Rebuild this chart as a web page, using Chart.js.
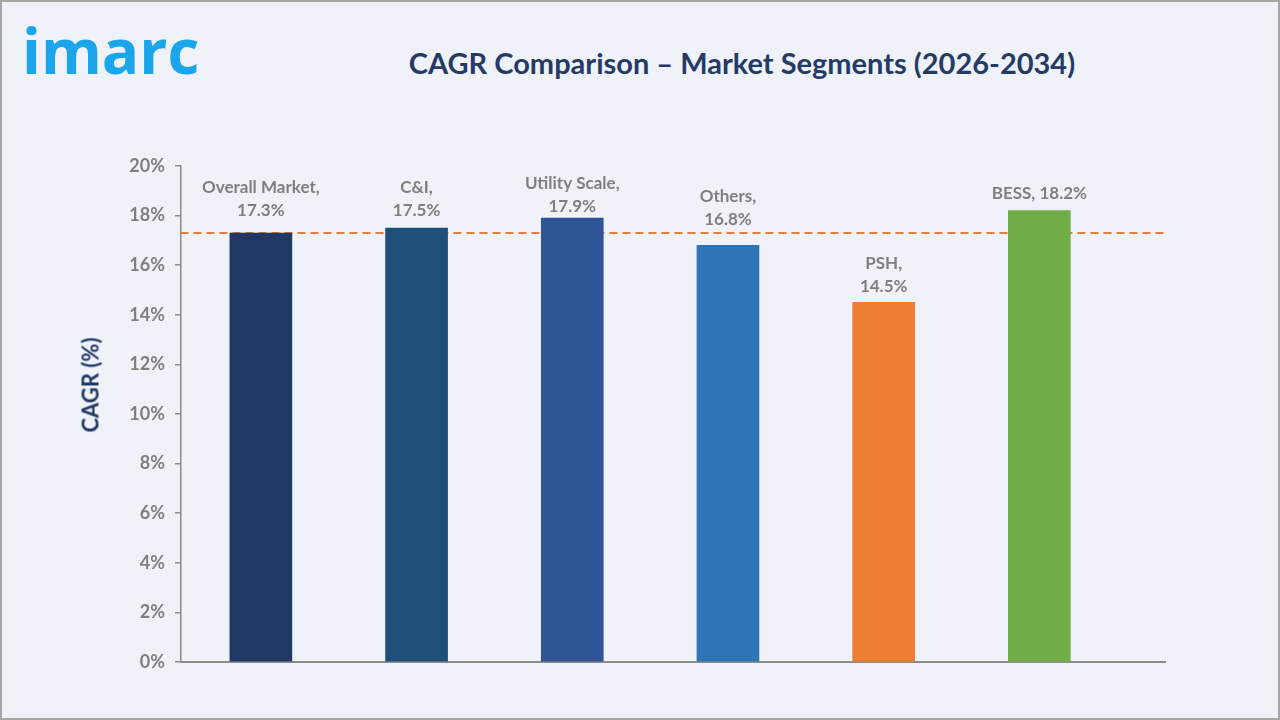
<!DOCTYPE html>
<html>
<head>
<meta charset="utf-8">
<script src="https://cdn.jsdelivr.net/npm/chart.js@4.4.1/dist/chart.umd.min.js"></script>
<style>
  html, body { margin: 0; padding: 0; }
  body { width: 1280px; height: 720px; overflow: hidden; font-family: Lato, "Open Sans", sans-serif; }
  #frame {
    position: relative; width: 1280px; height: 720px; box-sizing: border-box;
    border: 2px solid #a6a6a6; background: #eff2f8;
  }
  #logo {
    position: absolute; left: 20px; top: 17px; font-family: "Open Sans", sans-serif;
    font-weight: 700; font-size: 62px; line-height: 1; color: #1ba6ec;
  }
  #title {
    position: absolute; left: 240px; width: 1000px; top: 43px; text-align: center;
    font-weight: 700; font-size: 29px; color: #263a66;
  }
  #ytitle {
    position: absolute; left: 88px; top: 383px; transform: translate(-50%, -50%) rotate(-90deg);
    white-space: nowrap; font-weight: 700; font-size: 22px; color: #1f3864;
  }
  canvas { position: absolute; left: -2px; top: -2px; }
</style>
</head>
<body>
<div id="frame">
  <div id="logo">imarc</div>
  <div id="title">CAGR Comparison – Market Segments (2026-2034)</div>
  <canvas id="chart" width="1280" height="720"></canvas>
  <div id="ytitle">CAGR (%)</div>
</div>
<script>
// Segment data
const segments = ['Overall Market', 'C&I', 'Utility Scale', 'Others', 'PSH', 'BESS'];
const cagr = [17.3, 17.5, 17.9, 16.8, 14.5, 18.2];
const barColors = ['#1f3864', '#1f4e79', '#2f5597', '#2e75b6', '#ed7d31', '#70ad47'];
const overallCagr = 17.3;
const yTicks = [0, 2, 4, 6, 8, 10, 12, 14, 16, 18, 20];

// gap (px) between bar top and the value line, as placed in the original
const labelGap = [22, 17, 12, 26, 16, 17];

// labels above bars: "Name," on one line, value below (BESS on one line)
const barLabels = {
    id: 'barLabels',
    afterDatasetsDraw(chart) {
        const ctx = chart.ctx;
        const meta = chart.getDatasetMeta(0);
        ctx.save();
        ctx.font = 'bold 17px Lato, sans-serif';
        ctx.fillStyle = '#7f7f7f';
        ctx.textAlign = 'center';
        ctx.textBaseline = 'middle';
        meta.data.forEach((bar, i) => {
            const name = segments[i] + ',';
            const val = cagr[i].toFixed(1) + '%';
            const y = bar.y - labelGap[i];
            if (segments[i] === 'BESS') {
                ctx.fillText(name + ' ' + val, bar.x, y);
            } else {
                ctx.fillText(name, bar.x, y - 23);
                ctx.fillText(val, bar.x, y);
            }
        });
        ctx.restore();
    }
};

const ctx = document.getElementById('chart').getContext('2d');
new Chart(ctx, {
    type: 'bar',
    data: {
        datasets: [{
            type: 'bar',
            data: cagr.map((v, i) => ({ x: i, y: v })),
            backgroundColor: barColors,
            barThickness: 62,
            order: 1
        }, {
            type: 'line',
            data: [{ x: -0.6, y: overallCagr }, { x: 5.84, y: overallCagr }],
            borderColor: '#e0803a',
            borderWidth: 2,
            borderDash: [8, 5],
            pointRadius: 0,
            order: 2
        }]
    },
    options: {
        responsive: false,
        animation: false,
        layout: { padding: { left: 70, top: 166, right: 115, bottom: 58 } },
        plugins: {
            legend: { display: false },
            tooltip: { enabled: false }
        },
        scales: {
            x: {
                type: 'linear',
                offset: false,
                min: -0.513,
                max: 5.807,
                ticks: { display: false },
                grid: { display: false },
                border: { display: true, color: '#8c8c8c', width: 2 },
                afterFit(scale) { scale.height = 0; }
            },
            y: {
                min: 0,
                max: 20,
                afterBuildTicks(scale) { scale.ticks = yTicks.map(v => ({ value: v })); },
                ticks: {
                    padding: 10,
                    color: '#7f7f7f',
                    font: { family: 'Lato, sans-serif', size: 18, weight: 'bold' },
                    callback: v => v + '%'
                },
                grid: { drawOnChartArea: false, tickLength: 6, color: '#8c8c8c', lineWidth: 1.5 },
                border: { display: true, color: '#8c8c8c', width: 1.5 },
                afterFit(scale) { scale.width = 111; }
            }
        }
    },
    plugins: [barLabels]
});
</script>
</body>
</html>
